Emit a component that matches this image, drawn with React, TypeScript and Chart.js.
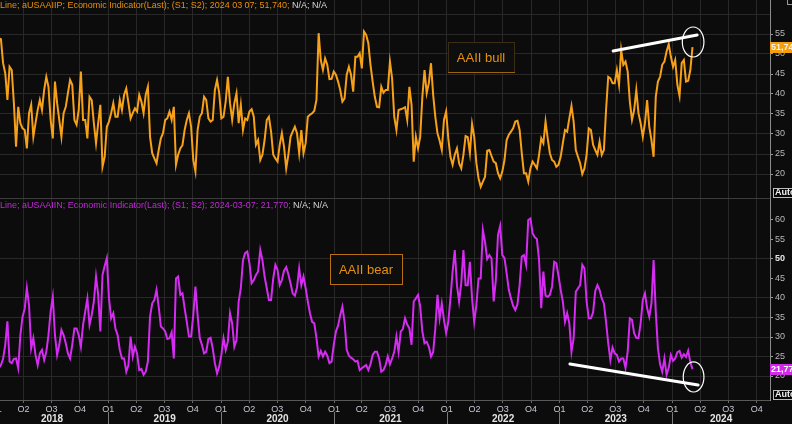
import React, { useEffect, useRef } from 'react';
import { Chart, registerables } from 'chart.js';

Chart.register(...registerables);

// ---------------- DATA (weekly AAII readings, first week 2018-01-04) ----------------
const bull2018 = [59.8, 53.9, 53.7, 47.7, 45.2, 38.5, 46.8, 46.0, 37.7, 26.8, 36.8, 32.7, 31.4, 31.0, 26.4, 35.2, 37.3, 29.3, 32.7, 36.0, 38.5, 36.0, 41.0, 44.3, 41.8, 33.5, 28.9, 43.1, 37.7, 33.5, 29.3, 35.2, 36.8, 40.2, 43.5, 42.3, 33.5, 32.3, 36.0, 45.6, 33.5, 33.5, 28.9, 39.3, 38.5, 32.7, 27.7, 32.7, 37.3, 21.8, 24.3, 31.8];
const bull2019 = [33.1, 35.2, 37.7, 34.3, 34.3, 38.5, 36.0, 39.8, 41.4, 37.7, 33.9, 35.2, 36.4, 35.6, 39.8, 38.1, 35.2, 39.8, 41.8, 29.3, 25.2, 23.9, 22.7, 26.0, 28.9, 30.2, 33.5, 33.9, 35.6, 33.5, 36.8, 22.3, 24.8, 26.4, 27.2, 31.0, 33.5, 35.2, 31.8, 23.5, 20.6, 31.0, 34.3, 35.2, 39.3, 38.5, 33.9, 33.1, 33.5, 41.0, 43.5, 40.2];
const bull2020 = [33.9, 34.3, 38.1, 44.3, 37.7, 33.5, 37.7, 40.2, 32.7, 37.3, 31.0, 33.9, 33.5, 35.6, 36.2, 34.3, 27.3, 28.5, 23.5, 24.8, 28.5, 33.5, 34.3, 30.6, 24.8, 23.9, 23.1, 27.3, 30.2, 26.8, 21.4, 24.8, 29.3, 30.6, 31.8, 30.2, 25.2, 31.0, 25.2, 27.7, 34.3, 34.8, 35.2, 35.8, 38.5, 55.2, 48.5, 46.0, 48.9, 47.3, 43.7, 43.8, 45.6];
const bull2021 = [44.8, 43.1, 41.0, 38.1, 38.9, 44.8, 46.8, 44.8, 40.6, 49.3, 49.3, 50.2, 46.4, 55.6, 54.8, 52.7, 47.3, 43.1, 39.3, 36.8, 36.7, 41.8, 40.3, 41.0, 41.0, 48.1, 43.9, 34.3, 31.0, 36.0, 36.2, 36.4, 36.7, 33.5, 41.8, 37.3, 23.1, 29.3, 26.4, 29.3, 39.3, 46.0, 40.2, 42.7, 47.7, 39.8, 34.3, 30.2, 28.3, 26.0, 33.5, 35.6];
const bull2022 = [28.9, 24.3, 22.3, 24.8, 26.4, 22.7, 21.4, 24.8, 29.5, 29.2, 25.2, 32.5, 29.3, 22.7, 18.9, 16.8, 18.1, 19.3, 25.8, 26.0, 24.5, 23.1, 22.7, 20.2, 18.9, 20.6, 23.5, 28.5, 29.8, 30.6, 31.4, 33.1, 33.3, 31.0, 25.2, 20.2, 20.2, 18.1, 21.4, 23.1, 22.3, 21.4, 24.8, 28.9, 27.7, 33.1, 28.9, 25.2, 23.5, 23.1, 21.8, 22.3];
const bull2023 = [24.3, 27.7, 31.0, 30.6, 33.9, 37.0, 33.1, 26.0, 24.3, 22.7, 20.0, 21.4, 24.8, 31.4, 31.0, 27.3, 26.0, 24.8, 28.1, 24.8, 26.0, 36.0, 44.3, 43.9, 42.7, 42.7, 46.0, 42.3, 51.0, 47.3, 48.1, 45.6, 38.1, 33.5, 36.0, 41.0, 35.2, 32.7, 29.3, 32.7, 38.5, 31.8, 28.5, 24.3, 39.3, 43.1, 44.3, 47.3, 48.1, 50.6, 52.5, 49.3];
const bull2024 = [46.8, 48.5, 42.3, 39.5, 47.7, 48.5, 43.1, 43.3, 46.0, 51.74];

const bear2018 = [21.0, 22.0, 22.8, 24.4, 28.0, 34.0, 23.7, 23.3, 24.4, 24.5, 22.0, 30.5, 35.2, 37.2, 42.5, 38.2, 27.1, 29.7, 25.4, 22.8, 25.8, 26.7, 24.1, 26.2, 30.5, 36.5, 40.3, 30.5, 25.4, 28.0, 31.8, 30.5, 28.4, 25.8, 24.5, 28.0, 32.2, 32.2, 30.5, 27.5, 33.1, 36.5, 39.9, 33.1, 35.6, 39.1, 45.5, 40.8, 31.4, 45.9, 48.2, 50.2];
const bear2019 = [39.9, 34.8, 36.1, 32.1, 30.5, 26.7, 24.5, 24.5, 21.1, 22.8, 30.1, 25.0, 27.5, 25.8, 21.5, 21.8, 20.3, 21.1, 23.7, 35.2, 38.6, 39.5, 42.1, 37.8, 32.7, 32.2, 31.4, 29.5, 29.7, 31.2, 24.5, 45.0, 45.5, 40.8, 41.2, 37.4, 33.9, 30.1, 30.1, 35.6, 42.9, 35.6, 29.7, 28.0, 25.8, 26.2, 29.5, 29.8, 27.1, 23.3, 20.7, 22.4];
const bear2020 = [25.4, 29.7, 26.7, 28.8, 36.1, 33.5, 27.5, 29.2, 39.1, 42.5, 49.7, 51.5, 51.9, 48.9, 43.8, 44.6, 45.9, 46.8, 52.3, 49.7, 45.5, 42.5, 39.5, 39.5, 45.0, 48.5, 47.2, 43.3, 44.6, 47.0, 47.9, 46.1, 43.8, 41.2, 40.6, 42.7, 47.6, 43.3, 45.5, 42.5, 39.1, 36.1, 33.9, 33.5, 29.7, 25.0, 26.4, 25.0, 26.2, 25.2, 23.3, 23.7, 28.0];
const bear2021 = [31.4, 32.9, 35.6, 37.8, 33.9, 26.7, 25.2, 24.7, 24.3, 23.7, 23.9, 21.5, 22.0, 22.4, 22.8, 21.5, 23.0, 25.4, 26.2, 26.2, 24.5, 21.1, 21.5, 22.8, 25.0, 23.0, 24.5, 26.2, 30.1, 26.2, 31.4, 32.1, 34.8, 33.2, 32.2, 28.0, 39.1, 39.9, 40.8, 37.8, 31.4, 28.4, 28.8, 27.5, 25.0, 26.1, 32.2, 40.8, 34.8, 38.6, 34.4, 31.0];
const bear2022 = [33.9, 39.9, 46.8, 52.3, 43.3, 39.1, 43.8, 52.3, 43.3, 43.3, 49.3, 39.9, 33.9, 38.2, 45.0, 45.0, 57.4, 54.4, 50.0, 51.0, 50.2, 39.1, 44.6, 56.2, 58.5, 51.0, 50.2, 46.3, 42.1, 39.9, 38.0, 36.9, 38.4, 43.3, 50.6, 51.0, 48.5, 60.0, 60.4, 56.6, 55.6, 55.1, 49.7, 37.4, 46.8, 40.6, 40.3, 40.8, 42.9, 49.3, 48.9, 45.7];
const bear2023 = [42.1, 39.1, 33.9, 36.1, 33.5, 26.2, 29.7, 41.6, 42.5, 43.3, 48.5, 47.6, 39.1, 34.8, 34.8, 36.3, 41.8, 43.3, 42.1, 39.9, 38.6, 33.9, 28.4, 24.1, 27.3, 25.8, 25.4, 23.7, 24.5, 24.5, 22.1, 26.2, 34.8, 34.4, 31.0, 29.8, 29.7, 33.5, 39.5, 41.2, 37.4, 35.2, 38.6, 49.7, 36.5, 27.1, 23.0, 21.1, 24.5, 20.3, 22.1, 25.4];
const bear2024 = [23.9, 24.5, 26.1, 26.4, 24.7, 25.6, 24.9, 26.5, 23.5, 21.77];

const YEARS = [2018, 2019, 2020, 2021, 2022, 2023, 2024];
const QUARTER_LABELS = ['Q1', 'Q2', 'Q3', 'Q4'];
const BULL_TICKS = [20, 25, 30, 35, 40, 45, 50, 55, 60];
const BEAR_TICKS = [20, 25, 30, 35, 40, 45, 50, 55, 60];
const BEAR_GRID = [20, 25, 30, 35, 40, 50];

const TOP_HEADER = 'Line; aUSAAIIP; Economic Indicator(Last); (S1; S2); 2024 03 07; 51,740; ';
const BOT_HEADER = 'Line; aUSAAIIN; Economic Indicator(Last); (S1; S2); 2024-03-07; 21,770; ';
const HEADER_TAIL = 'N/A; N/A';

// ---------------- helpers ----------------
const DAY = 86400000;
const ORIGIN = Date.UTC(2018, 0, 1);
const FIRST_WEEK = Date.UTC(2018, 0, 4);
const dayOf = (t: number) => (t - ORIGIN) / DAY;

const bullValues = [...bull2018, ...bull2019, ...bull2020, ...bull2021, ...bull2022, ...bull2023, ...bull2024];
const bearValues = [...bear2018, ...bear2019, ...bear2020, ...bear2021, ...bear2022, ...bear2023, ...bear2024];
const weekDay = (i: number) => dayOf(FIRST_WEEK) + 7 * i;

const X_MIN = dayOf(Date.UTC(2018, 0, 15));
const X_MAX = dayOf(Date.UTC(2024, 10, 13));

const quarterTicks = YEARS.flatMap((y) => [0, 3, 6, 9].map((m) => ({ value: dayOf(Date.UTC(y, m, 1)), label: QUARTER_LABELS[m / 3] })));
const yearStarts = YEARS.map((y) => dayOf(Date.UTC(y, 0, 1)));
const yearMids = YEARS.map((y) => {
  const s = dayOf(Date.UTC(y, 0, 1));
  const e = Math.min(dayOf(Date.UTC(y + 1, 0, 1)), X_MAX);
  return (s + e) / 2;
});

// annotations (in data units)
const BULL_TREND = [{ d: Date.UTC(2023, 5, 24), v: 50.75 }, { d: Date.UTC(2024, 2, 22), v: 54.75 }];
const BULL_RING = { d0: Date.UTC(2024, 1, 3), d1: Date.UTC(2024, 3, 13), v0: 49.25, v1: 56.75 };
const BULL_BOX = { d0: Date.UTC(2022, 0, 5), d1: Date.UTC(2022, 7, 7), v0: 45.5, v1: 53, text: 'AAII bull' };
const BEAR_TREND = [{ d: Date.UTC(2023, 1, 4), v: 23.1 }, { d: Date.UTC(2024, 2, 25), v: 17.7 }];
const BEAR_RING = { d0: Date.UTC(2024, 1, 6), d1: Date.UTC(2024, 3, 13), v0: 15.9, v1: 23.6 };
const BEAR_BOX = { d0: Date.UTC(2020, 11, 19), d1: Date.UTC(2021, 7, 9), v0: 43.6, v1: 51.3, text: 'AAII bear' };

const FONT = "'Liberation Sans', Arial, sans-serif";
const BG = '#0c0c0c';
const GRID = '#282828';
const TICK = '#b8b8b8';
const AXIS_LINE = '#8c8c8c';
const BULL_COLOR = '#f7a11a';
const BEAR_COLOR = '#d42cf0';

function drawHeader(ctx: CanvasRenderingContext2D, y: number, main: string, color: string, targetW: number) {
  ctx.save();
  ctx.font = `9px ${FONT}`;
  ctx.textBaseline = 'top';
  ctx.textAlign = 'left';
  const w1 = ctx.measureText(main).width;
  const w2 = ctx.measureText(HEADER_TAIL).width;
  const s = targetW / (w1 + w2);
  ctx.translate(0, y);
  ctx.scale(s, 1);
  ctx.fillStyle = color;
  ctx.fillText(main, 0, 0);
  ctx.fillStyle = '#d6d6d6';
  ctx.fillText(HEADER_TAIL, w1, 0);
  ctx.restore();
}

function makeOverlay(opts: any) {
  return {
    id: 'overlay-' + opts.key,
    beforeDraw(chart: any) {
      const ctx = chart.ctx;
      ctx.save();
      ctx.fillStyle = BG;
      ctx.fillRect(0, 0, chart.width, chart.height);
      ctx.restore();
    },
    afterDraw(chart: any) {
      const ctx: CanvasRenderingContext2D = chart.ctx;
      const xs = chart.scales.x;
      const ys = chart.scales.y;
      const area = chart.chartArea;
      const px = (t: number) => xs.getPixelForValue(dayOf(t));
      const py = (v: number) => ys.getPixelForValue(v);

      drawHeader(ctx, opts.headerY, opts.header, opts.headerColor, opts.headerW);

      // annotation box
      const b = opts.box;
      const bx0 = px(b.d0), bx1 = px(b.d1), by0 = py(b.v1), by1 = py(b.v0);
      ctx.save();
      ctx.fillStyle = '#0e0e0e';
      ctx.fillRect(bx0, by0, bx1 - bx0, by1 - by0);
      ctx.lineWidth = 1;
      ctx.strokeStyle = opts.boxBorder;
      ctx.strokeRect(Math.round(bx0) + 0.5, Math.round(by0) + 0.5, Math.round(bx1 - bx0), Math.round(by1 - by0));
      if (opts.boxBottom) {
        ctx.strokeStyle = opts.boxBottom;
        ctx.beginPath();
        ctx.moveTo(Math.round(bx0), Math.round(by1) + 0.5);
        ctx.lineTo(Math.round(bx1) + 1, Math.round(by1) + 0.5);
        ctx.stroke();
      }
      ctx.fillStyle = '#e8900c';
      ctx.font = `13px ${FONT}`;
      ctx.textAlign = 'center';
      ctx.textBaseline = 'middle';
      ctx.fillText(b.text, (bx0 + bx1) / 2, (by0 + by1) / 2 + 1);
      ctx.restore();

      // trend line
      ctx.save();
      ctx.beginPath();
      ctx.rect(area.left, area.top, area.right - area.left, area.bottom - area.top);
      ctx.clip();
      ctx.strokeStyle = '#ffffff';
      ctx.lineWidth = 3;
      ctx.lineCap = 'round';
      ctx.beginPath();
      ctx.moveTo(px(opts.trend[0].d), py(opts.trend[0].v));
      ctx.lineTo(px(opts.trend[1].d), py(opts.trend[1].v));
      ctx.stroke();
      // ring
      const r = opts.ring;
      const rx0 = px(r.d0), rx1 = px(r.d1), ry0 = py(r.v1), ry1 = py(r.v0);
      ctx.lineWidth = 1.2;
      ctx.beginPath();
      ctx.ellipse((rx0 + rx1) / 2, (ry0 + ry1) / 2, (rx1 - rx0) / 2, (ry1 - ry0) / 2, 0, 0, Math.PI * 2);
      ctx.stroke();
      ctx.restore();

      // last value label
      const data = chart.data.datasets[0].data;
      const last = data[data.length - 1].y;
      const ly = Math.round(py(last));
      ctx.save();
      ctx.fillStyle = opts.color;
      ctx.fillRect(area.right, ly - 5, chart.width - area.right, 11);
      ctx.fillStyle = opts.valueText;
      ctx.font = `bold 9px ${FONT}`;
      ctx.textBaseline = 'middle';
      ctx.textAlign = 'left';
      ctx.fillText(last.toFixed(2).replace('.', ','), area.right + 1, ly + 1);
      ctx.restore();

      // Auto button
      ctx.save();
      const ay = area.bottom - 10;
      ctx.fillStyle = '#050505';
      ctx.fillRect(area.right + 3, ay, chart.width - area.right - 3, 9);
      ctx.strokeStyle = '#bdbdbd';
      ctx.lineWidth = 1;
      ctx.strokeRect(area.right + 3.5, ay + 0.5, chart.width - area.right, 9);
      ctx.fillStyle = '#f0f0f0';
      ctx.font = `bold 9px ${FONT}`;
      ctx.textBaseline = 'middle';
      ctx.textAlign = 'left';
      ctx.fillText('Auto', area.right + 5, ay + 5);
      ctx.restore();

      if (opts.key === 'bot') {
        // year separators in the axis area
        ctx.save();
        ctx.strokeStyle = '#7a7a7a';
        ctx.lineWidth = 1;
        yearStarts.forEach((d) => {
          const x = Math.round(xs.getPixelForValue(d)) + 0.5;
          if (x < 0 || x > area.right) return;
          ctx.beginPath();
          ctx.moveTo(x, area.bottom + 12);
          ctx.lineTo(x, chart.height);
          ctx.stroke();
        });
        ctx.restore();
      } else {
        ctx.save();
        ctx.strokeStyle = '#9a9a9a';
        ctx.strokeRect(chart.width - 4.5, -0.5, 6, 5);
        ctx.restore();
      }
    },
  };
}

function quarterAxis(showLabels: boolean) {
  return {
    type: 'linear',
    position: 'bottom',
    min: X_MIN,
    max: X_MAX,
    weight: 0,
    afterBuildTicks: (s: any) => {
      s.ticks = quarterTicks.map((q) => ({ value: q.value }));
    },
    afterFit: (s: any) => {
      s.height = showLabels ? 12 : 1;
      s.paddingLeft = 0;
      s.paddingRight = 0;
    },
    ticks: {
      display: showLabels,
      autoSkip: false,
      maxRotation: 0,
      padding: 1,
      color: '#c4c8d0',
      font: { family: FONT, size: 9 },
      callback: (_v: any, i: number) => quarterTicks[i].label,
    },
    grid: {
      color: GRID,
      drawTicks: showLabels,
      tickLength: 3,
      tickColor: '#6a6a6a',
    },
    border: { display: true, color: showLabels ? '#5a5a5a' : '#3c3c3c' },
  };
}

function yAxis(min: number, max: number, ticks: number[], labelMax: number, gridVals: number[], boldVal: number | null) {
  return {
    type: 'linear',
    position: 'right',
    min,
    max,
    afterBuildTicks: (s: any) => {
      s.ticks = ticks.map((v) => ({ value: v }));
    },
    afterFit: (s: any) => {
      s.width = 22;
      s.paddingTop = 0;
      s.paddingBottom = 0;
    },
    ticks: {
      padding: 2,
      color: (c: any) => (c.tick && c.tick.value === boldVal ? '#e6e6e6' : TICK),
      font: (c: any) => ({ family: FONT, size: 9, weight: c.tick && c.tick.value === boldVal ? 'bold' : 'normal' }),
      callback: (v: any) => (v <= labelMax ? String(v) : ''),
    },
    grid: {
      color: (c: any) => (c.tick && gridVals.includes(c.tick.value) ? GRID : 'rgba(0,0,0,0)'),
      tickLength: 3,
      tickColor: (c: any) => (c.tick && c.tick.value <= labelMax ? '#9a9a9a' : 'rgba(0,0,0,0)'),
    },
    border: { display: true, color: AXIS_LINE },
  };
}

export default function App() {
  const topRef = useRef<HTMLCanvasElement>(null);
  const botRef = useRef<HTMLCanvasElement>(null);

  useEffect(() => {
    document.body.style.margin = '0';
    document.body.style.background = BG;

    const top = new Chart(topRef.current as HTMLCanvasElement, {
      type: 'line',
      data: {
        datasets: [
          {
            data: bullValues.map((v, i) => ({ x: weekDay(i), y: v })),
            borderColor: BULL_COLOR,
            borderWidth: 2,
            pointRadius: 0,
            tension: 0,
          },
        ],
      },
      options: {
        responsive: false,
        animation: false,
        events: [],
        layout: { padding: 0 },
        plugins: { legend: { display: false }, tooltip: { enabled: false } },
        scales: {
          x: quarterAxis(false) as any,
          y: yAxis(14, 63.5, BULL_TICKS, 55, [20, 25, 30, 35, 40, 45, 50, 55, 60], null) as any,
        },
      },
      plugins: [
        makeOverlay({
          key: 'top',
          header: TOP_HEADER,
          headerColor: '#e8900c',
          headerY: 1,
          headerW: 327,
          box: BULL_BOX,
          boxBorder: '#3a2d14',
          boxBottom: '#9a6410',
          trend: BULL_TREND,
          ring: BULL_RING,
          color: '#f59d0a',
          valueText: '#fff4e0',
        }),
      ],
    });

    const bot = new Chart(botRef.current as HTMLCanvasElement, {
      type: 'line',
      data: {
        datasets: [
          {
            data: bearValues.map((v, i) => ({ x: weekDay(i), y: v })),
            borderColor: BEAR_COLOR,
            borderWidth: 2,
            pointRadius: 0,
            tension: 0,
          },
        ],
      },
      options: {
        responsive: false,
        animation: false,
        events: [],
        layout: { padding: 0 },
        plugins: { legend: { display: false }, tooltip: { enabled: false } },
        scales: {
          x: quarterAxis(true) as any,
          x2: {
            type: 'linear',
            position: 'bottom',
            min: X_MIN,
            max: X_MAX,
            weight: 1,
            afterBuildTicks: (s: any) => {
              s.ticks = yearMids.map((v) => ({ value: v }));
            },
            afterFit: (s: any) => {
              s.height = 12;
              s.paddingLeft = 0;
              s.paddingRight = 0;
            },
            ticks: {
              autoSkip: false,
              maxRotation: 0,
              padding: 1,
              color: '#e4e4e4',
              font: { family: FONT, size: 10, weight: 'bold' },
              callback: (_v: any, i: number) => String(YEARS[i]),
            },
            grid: { display: false, drawTicks: false },
            border: { display: false },
          } as any,
          y: yAxis(13.85, 65.38, BEAR_TICKS, 60, BEAR_GRID, 50) as any,
        },
      },
      plugins: [
        makeOverlay({
          key: 'bot',
          header: BOT_HEADER,
          headerColor: '#c02ad8',
          headerY: 2,
          headerW: 328,
          box: BEAR_BOX,
          boxBorder: '#b87012',
          boxBottom: null,
          trend: BEAR_TREND,
          ring: BEAR_RING,
          color: '#d22ae8',
          valueText: '#ffffff',
        }),
      ],
    });

    return () => {
      top.destroy();
      bot.destroy();
    };
  }, []);

  return (
    <div style={{ position: 'relative', width: 792, height: 424, background: BG, overflow: 'hidden' }}>
      <canvas ref={topRef} width={792} height={199} style={{ position: 'absolute', left: 0, top: 0, display: 'block' }} />
      <canvas ref={botRef} width={792} height={225} style={{ position: 'absolute', left: 0, top: 199, display: 'block' }} />
    </div>
  );
}
